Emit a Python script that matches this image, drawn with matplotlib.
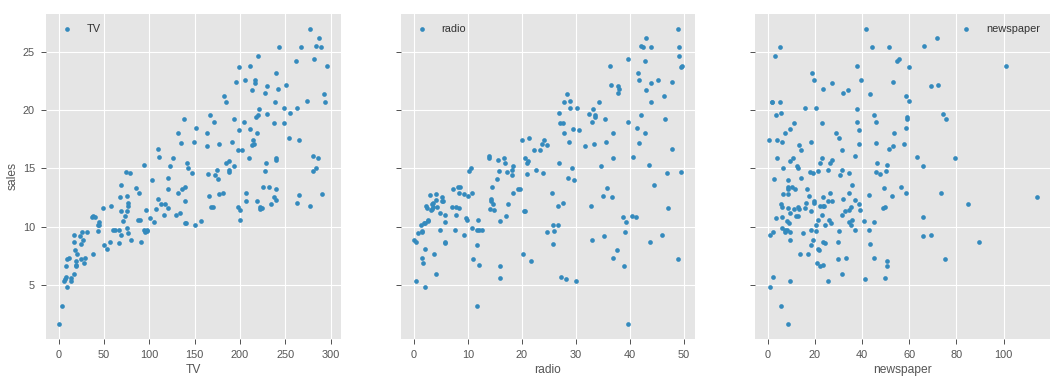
import numpy as np
import matplotlib
matplotlib.use('Agg')
import matplotlib.pyplot as plt

# Advertising data (TV, radio, newspaper budgets vs sales)
tv = [230.1, 44.5, 17.2, 151.5, 180.8, 8.7, 57.5, 120.2, 8.6, 199.8,
      66.1, 214.7, 23.8, 97.5, 204.1, 195.4, 67.8, 281.4, 69.2, 147.3,
      218.4, 237.4, 13.2, 228.3, 62.3, 262.9, 142.9, 240.1, 248.8, 70.6,
      292.9, 112.9, 97.2, 265.6, 95.7, 290.7, 266.9, 74.7, 43.1, 228.0,
      202.5, 177.0, 293.6, 206.9, 25.1, 175.1, 89.7, 239.9, 227.2, 66.9,
      199.8, 100.4, 216.4, 182.6, 262.7, 198.9, 7.3, 136.2, 210.8, 210.7,
      53.5, 261.3, 239.3, 102.7, 131.1, 69.0, 31.5, 139.3, 237.4, 216.8,
      199.1, 109.8, 26.8, 129.4, 213.4, 16.9, 27.5, 120.5, 5.4, 116.0,
      76.4, 239.8, 75.3, 68.4, 213.5, 193.2, 76.3, 110.7, 88.3, 109.8,
      134.3, 28.6, 217.7, 250.9, 107.4, 163.3, 197.6, 184.9, 289.7, 135.2,
      222.4, 296.4, 280.2, 187.9, 238.2, 137.9, 25.0, 90.4, 13.1, 255.4,
      225.8, 241.7, 175.7, 209.6, 78.2, 75.1, 139.2, 76.4, 125.7, 19.4,
      141.3, 18.8, 224.0, 123.1, 229.5, 87.2, 7.8, 80.2, 220.3, 59.6,
      0.7, 265.2, 8.4, 219.8, 36.9, 48.3, 25.6, 273.7, 43.0, 184.9,
      73.4, 193.7, 220.5, 104.6, 96.2, 140.3, 240.1, 243.2, 38.0, 44.7,
      280.7, 121.0, 197.6, 171.3, 187.8, 4.1, 93.9, 149.8, 11.7, 131.7,
      172.5, 85.7, 188.4, 163.5, 117.2, 234.5, 17.9, 206.8, 215.4, 284.3,
      50.0, 164.5, 19.6, 168.4, 222.4, 276.9, 248.4, 170.2, 276.7, 165.6,
      156.6, 218.5, 56.2, 287.6, 253.8, 205.0, 139.5, 191.1, 286.0, 18.7,
      39.5, 75.5, 17.2, 166.8, 149.7, 38.2, 94.2, 177.0, 283.6, 232.1]
radio = [37.8, 39.3, 45.9, 41.3, 10.8, 48.9, 32.8, 19.6, 2.1, 2.6,
         5.8, 24.0, 35.1, 7.6, 32.9, 47.7, 36.6, 39.6, 20.5, 23.9,
         27.7, 5.1, 15.9, 16.9, 12.6, 3.5, 29.3, 16.7, 27.1, 16.0,
         28.3, 17.4, 1.5, 20.0, 1.4, 4.1, 43.8, 49.4, 26.7, 37.7,
         22.3, 33.4, 27.7, 8.4, 25.7, 22.5, 9.9, 41.5, 15.8, 11.7,
         3.1, 9.6, 41.7, 46.2, 28.8, 49.4, 28.1, 19.2, 49.6, 29.5,
         2.0, 42.7, 15.5, 29.6, 42.8, 9.3, 24.6, 14.5, 27.5, 43.9,
         30.6, 14.3, 33.0, 5.7, 24.6, 43.7, 1.6, 28.5, 29.9, 7.7,
         26.7, 4.1, 20.3, 44.5, 43.0, 18.4, 27.5, 40.6, 25.5, 47.8,
         4.9, 1.5, 33.5, 36.5, 14.0, 31.6, 3.5, 21.0, 42.3, 41.7,
         4.3, 36.3, 10.1, 17.2, 34.3, 46.4, 11.0, 0.3, 0.4, 26.9,
         8.2, 38.0, 15.4, 20.6, 46.8, 35.0, 14.3, 0.8, 36.9, 16.0,
         26.8, 21.7, 2.4, 34.6, 32.3, 11.8, 38.9, 0.0, 49.0, 12.0,
         39.6, 2.9, 27.2, 33.5, 38.6, 47.0, 39.0, 28.9, 25.9, 43.9,
         17.0, 35.4, 33.2, 5.7, 14.8, 1.9, 7.3, 49.0, 40.3, 25.8,
         13.9, 8.4, 23.3, 39.7, 21.1, 11.6, 43.5, 1.3, 36.9, 18.4,
         18.1, 35.8, 18.1, 36.8, 14.7, 3.4, 37.6, 5.2, 23.6, 10.6,
         11.6, 20.9, 20.1, 7.1, 3.4, 48.9, 30.2, 7.8, 2.3, 10.0,
         2.6, 5.4, 5.7, 43.0, 21.3, 45.1, 2.1, 28.7, 13.9, 12.1,
         41.1, 10.8, 4.1, 42.0, 35.6, 3.7, 4.9, 9.3, 42.0, 8.6]
newspaper = [69.2, 45.1, 69.3, 58.5, 58.4, 75.0, 23.5, 11.6, 1.0, 21.2,
             24.2, 4.0, 65.9, 7.2, 46.0, 52.9, 114.0, 55.8, 18.3, 19.1,
             53.4, 23.5, 49.6, 26.2, 18.3, 19.5, 12.6, 22.9, 22.9, 40.8,
             43.2, 38.6, 30.0, 0.3, 7.4, 8.5, 5.0, 45.7, 35.1, 32.0,
             31.6, 38.7, 1.8, 26.4, 43.3, 31.5, 35.7, 18.5, 49.9, 36.8,
             34.6, 3.6, 39.6, 58.7, 15.9, 60.0, 41.4, 16.6, 37.7, 9.3,
             21.4, 54.7, 27.3, 8.4, 28.9, 0.9, 2.2, 10.2, 11.0, 27.2,
             38.7, 31.7, 19.3, 31.3, 13.1, 89.4, 20.7, 14.2, 9.4, 23.1,
             22.3, 36.9, 32.5, 35.6, 33.8, 65.7, 16.0, 63.2, 73.4, 51.4,
             9.3, 33.0, 59.0, 72.3, 10.9, 52.9, 5.9, 22.0, 51.2, 45.9,
             49.8, 100.9, 21.4, 17.9, 5.3, 59.0, 29.7, 23.2, 25.6, 5.5,
             56.5, 23.2, 2.4, 10.7, 34.5, 52.7, 25.6, 14.8, 79.2, 22.3,
             46.2, 50.4, 15.6, 12.4, 74.2, 25.9, 50.6, 9.2, 3.2, 43.1,
             8.7, 43.0, 2.1, 45.1, 65.6, 8.5, 9.3, 59.7, 20.5, 1.7,
             12.9, 75.6, 37.9, 34.4, 38.9, 9.0, 8.7, 44.3, 11.9, 20.6,
             37.0, 48.7, 14.2, 37.7, 9.5, 5.7, 50.5, 24.3, 45.2, 34.6,
             30.7, 49.3, 25.6, 7.4, 5.4, 84.8, 21.6, 19.4, 57.6, 6.4,
             18.4, 47.4, 17.0, 12.8, 13.1, 41.8, 20.3, 35.2, 23.7, 17.6,
             8.3, 27.4, 29.7, 71.8, 30.0, 19.6, 26.6, 18.2, 3.7, 23.4,
             5.8, 6.0, 31.6, 3.6, 6.0, 13.8, 8.1, 6.4, 66.2, 8.7]
sales = [22.1, 10.4, 9.3, 18.5, 12.9, 7.2, 11.8, 13.2, 4.8, 10.6,
         8.6, 17.4, 9.2, 9.7, 19.0, 22.4, 12.5, 24.4, 11.3, 14.6,
         18.0, 12.5, 5.6, 15.5, 9.7, 12.0, 15.0, 15.9, 18.9, 10.5,
         21.4, 11.9, 9.6, 17.4, 9.5, 12.8, 25.4, 14.7, 10.1, 21.5,
         16.6, 17.1, 20.7, 12.9, 8.5, 14.9, 10.6, 23.2, 14.8, 9.7,
         11.4, 10.7, 22.6, 21.2, 20.2, 23.7, 5.5, 13.2, 23.8, 18.4,
         8.1, 24.2, 15.7, 14.0, 18.0, 9.3, 9.5, 13.4, 18.9, 22.3,
         18.3, 12.4, 8.8, 11.0, 17.0, 8.7, 6.9, 14.2, 5.3, 11.0,
         11.8, 12.3, 11.3, 13.6, 21.7, 15.2, 12.0, 16.0, 12.9, 16.7,
         11.2, 7.3, 19.4, 22.2, 11.5, 16.9, 11.7, 15.5, 25.4, 17.2,
         11.7, 23.8, 14.8, 14.7, 20.7, 19.2, 7.2, 8.7, 5.3, 19.8,
         13.4, 21.8, 14.1, 15.9, 14.6, 12.6, 12.2, 9.4, 15.9, 6.6,
         15.5, 7.0, 11.6, 15.2, 19.7, 10.6, 6.6, 8.8, 24.7, 9.7,
         1.6, 12.7, 5.7, 19.6, 10.8, 11.6, 9.5, 20.8, 9.6, 20.7,
         10.9, 19.2, 20.1, 10.4, 11.4, 10.3, 13.2, 25.4, 10.9, 10.1,
         16.1, 11.6, 16.6, 19.0, 15.6, 3.2, 15.3, 10.1, 7.3, 12.9,
         14.4, 13.3, 14.9, 18.0, 11.9, 11.9, 8.0, 12.2, 17.1, 15.0,
         8.4, 14.5, 7.6, 11.7, 11.5, 27.0, 20.2, 11.7, 11.8, 12.6,
         10.5, 12.2, 8.7, 26.2, 17.6, 22.6, 10.3, 17.3, 15.9, 6.7,
         10.8, 9.9, 5.9, 19.6, 17.3, 7.6, 9.7, 12.8, 25.5, 13.4]

features = {'TV': tv, 'radio': radio, 'newspaper': newspaper}
legend_loc = {'TV': 'upper left', 'radio': 'upper left', 'newspaper': 'upper right'}

plt.rcParams['font.family'] = ['Liberation Sans', 'DejaVu Sans']
text_color = '#555555'

fig, axs = plt.subplots(1, 3, sharey=True, figsize=(1062 / 72, 382 / 72), dpi=72)
fig.subplots_adjust(left=0.0433, right=0.9887, top=0.9634, bottom=0.1126, wspace=0.203)

for ax, (name, vals) in zip(axs, features.items()):
    ax.set_facecolor('#E5E5E5')
    ax.scatter(vals, sales, s=22, color='#348ABD', label=name, zorder=3, linewidths=0)
    ax.grid(True, color='white', linewidth=1.1, zorder=0)
    ax.set_axisbelow(True)
    for sp in ax.spines.values():
        sp.set_visible(False)
    ax.tick_params(direction='out', length=5, width=1, color=text_color,
                   labelcolor=text_color, labelsize=11, pad=6)
    ax.set_xlabel(name, color=text_color, fontsize=12)
    leg = ax.legend(loc=legend_loc[name], frameon=False, scatterpoints=1, fontsize=11)
    for t in leg.get_texts():
        t.set_color('#333333')
    ax.margins(0.05)

axs[0].set_ylabel('sales', color=text_color, fontsize=12)
axs[0].set_yticks([5, 10, 15, 20, 25])
axs[0].set_xticks([0, 50, 100, 150, 200, 250, 300])
axs[1].set_xticks([0, 10, 20, 30, 40, 50])
axs[2].set_xticks([0, 20, 40, 60, 80, 100])

fig.savefig('out.png', dpi=72)
